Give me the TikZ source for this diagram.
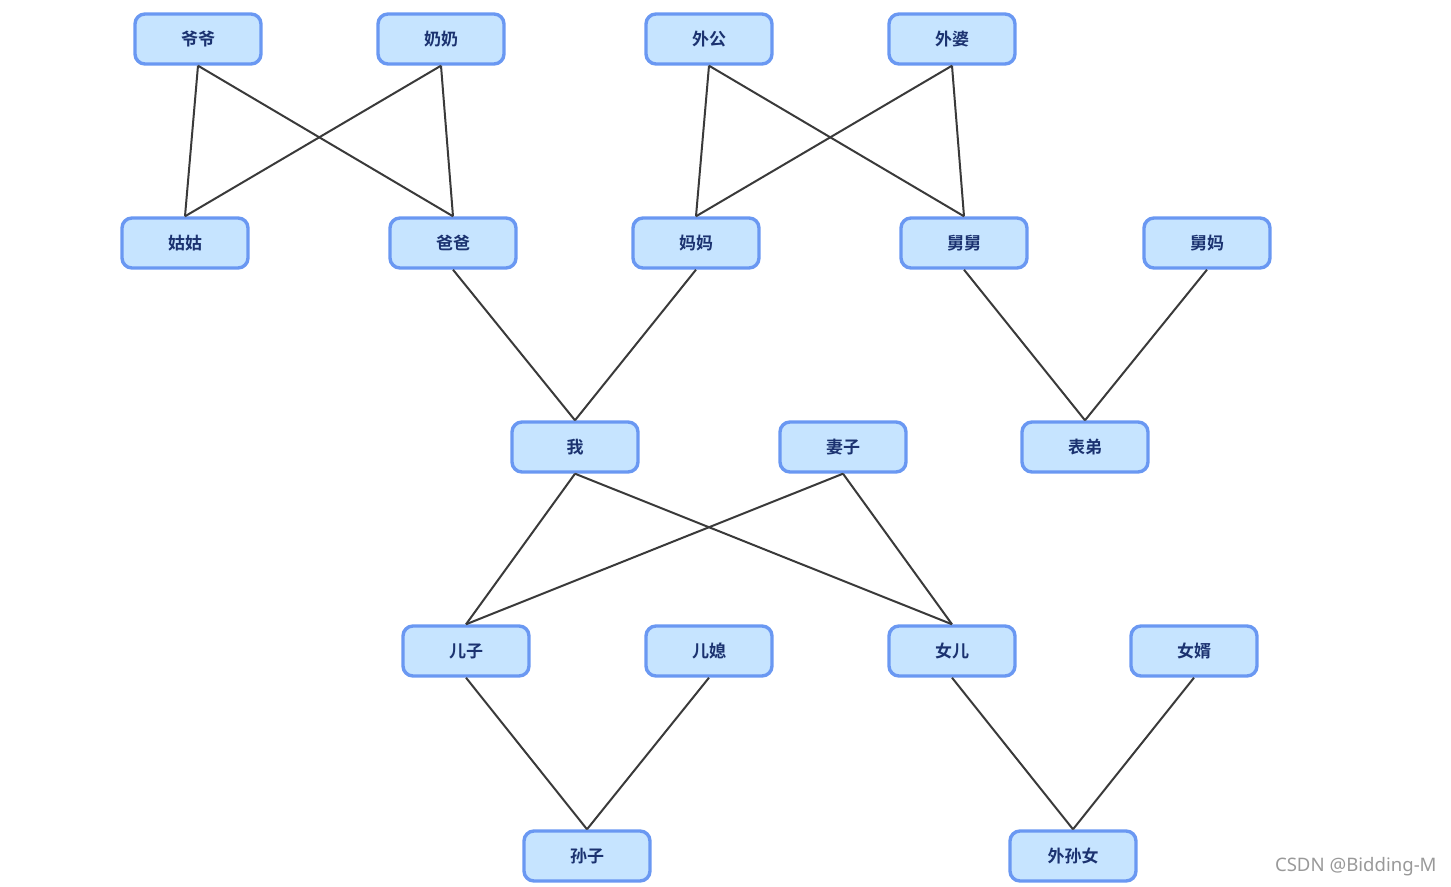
\documentclass[tikz,border=0pt]{standalone}
\usepackage{fontspec}
\newfontfamily\cjk{Noto Sans CJK SC}[BoldFont={* Bold}]
\newfontfamily\wm{Noto Sans}
\definecolor{boxfill}{HTML}{C6E4FF}
\definecolor{boxdraw}{HTML}{6A98F2}
\definecolor{boxtext}{HTML}{1B3270}
\definecolor{edgecol}{HTML}{3A3A3A}
\begin{document}
\begin{tikzpicture}[x=0.5pt,y=-0.5pt,
  person/.style={draw=boxdraw,fill=boxfill,line width=1.7pt,rounded corners=5pt,
    minimum width=63pt,minimum height=25pt,inner sep=0pt,
    font=\cjk\bfseries\fontsize{8.5pt}{10pt}\selectfont,text=boxtext},
  rel/.style={draw=edgecol,line width=1pt}]
\useasboundingbox (0,0) rectangle (1451,887);
\node[person] (yeye) at (198,39) {爷爷};
\node[person] (nainai) at (441,39) {奶奶};
\node[person] (waigong) at (709,39) {外公};
\node[person] (waipo) at (952,39) {外婆};
\node[person] (gugu) at (185,243) {姑姑};
\node[person] (baba) at (453,243) {爸爸};
\node[person] (mama) at (696,243) {妈妈};
\node[person] (jiujiu) at (964,243) {舅舅};
\node[person] (jiuma) at (1207,243) {舅妈};
\node[person] (wo) at (575,447) {我};
\node[person] (qizi) at (843,447) {妻子};
\node[person] (biaodi) at (1085,447) {表弟};
\node[person] (erzi) at (466,651) {儿子};
\node[person] (erxi) at (709,651) {儿媳};
\node[person] (nver) at (952,651) {女儿};
\node[person] (nvxu) at (1194,651) {女婿};
\node[person] (sunzi) at (587,856) {孙子};
\node[person] (waisunnv) at (1073,856) {外孙女};
\foreach \a/\b in {yeye/gugu,yeye/baba,nainai/gugu,nainai/baba,
  waigong/mama,waigong/jiujiu,waipo/mama,waipo/jiujiu,
  baba/wo,mama/wo,jiujiu/biaodi,jiuma/biaodi,
  wo/erzi,wo/nver,qizi/erzi,qizi/nver,
  erzi/sunzi,erxi/sunzi,nver/waisunnv,nvxu/waisunnv}
  \draw[rel] (\a.south) -- (\b.north);
\node[text=gray!80,font=\wm\fontsize{9.3pt}{11pt}\selectfont,anchor=east,inner sep=0pt] (mark) at (1437,867) {CSDN @Bidding-M};
\end{tikzpicture}
\end{document}
